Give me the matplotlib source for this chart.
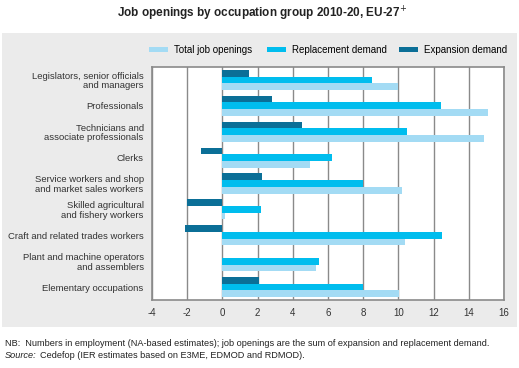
import matplotlib
matplotlib.use('Agg')
import matplotlib.pyplot as plt
from matplotlib.patches import Rectangle
from matplotlib import font_manager
import numpy as np

# data (millions of job openings)
occupations = [
    "Legislators, senior officials\nand managers",
    "Professionals",
    "Technicians and\nassociate professionals",
    "Clerks",
    "Service workers and shop\nand market sales workers",
    "Skilled agricultural\nand fishery workers",
    "Craft and related trades workers",
    "Plant and machine operators\nand assemblers",
    "Elementary occupations",
]
expansion = [1.5, 2.8, 4.5, -1.2, 2.25, -2.0, -2.1, -0.05, 2.1]
replacement = [8.5, 12.4, 10.5, 6.2, 8.0, 2.2, 12.45, 5.5, 8.0]
total = [10.0, 15.1, 14.85, 5.0, 10.2, 0.15, 10.35, 5.3, 10.05]
xticks = [-4, -2, 0, 2, 4, 6, 8, 10, 12, 14, 16]

c_total = "#a3dbf4"
c_repl = "#00bdee"
c_exp = "#0b6f97"
c_grid = "#8a8a8a"

names = {f.name for f in font_manager.fontManager.ttflist}
narrow = "Liberation Sans Narrow" if "Liberation Sans Narrow" in names else "Liberation Sans"
plt.rcParams['font.family'] = [narrow, "DejaVu Sans"]

fig = plt.figure(figsize=(5.19, 3.68), dpi=100)
W, H = 519.0, 368.0

# grey panel behind the chart
fig.patches.append(Rectangle((2 / W, 1 - 327 / H), 515 / W, 294 / H,
                             transform=fig.transFigure, facecolor="#ebebeb",
                             edgecolor="none", zorder=-10))

ax = fig.add_axes([152 / W, 1 - 300 / H, 352 / W, 233 / H])
ax.set_facecolor("white")

y = np.arange(len(occupations))
h = 0.26
ax.barh(y - h, expansion, height=h, color=c_exp, label="Expansion demand", zorder=3)
ax.barh(y, replacement, height=h, color=c_repl, label="Replacement demand", zorder=3)
ax.barh(y + h, total, height=h, color=c_total, label="Total job openings", zorder=3)

ax.set_xlim(-4, 16)
ax.set_ylim(len(occupations) - 0.5, -0.5)
ax.set_xticks(xticks)
ax.set_xticklabels([str(t) for t in xticks], fontsize=7, color="#333333")
ax.set_yticks(y)
ax.set_yticklabels(occupations, fontsize=6.8, color="#333333", linespacing=1.05)
ax.tick_params(length=0, pad=6)
ax.xaxis.grid(True, color=c_grid, linewidth=1.0, zorder=1)
for s in ax.spines.values():
    s.set_color(c_grid)
    s.set_linewidth(1.2)

# one legend entry each so they sit where the reference has them
handles, labels = ax.get_legend_handles_labels()
for i, xpos in [(2, 149), (1, 267), (0, 399)]:
    fig.legend([handles[i]], [labels[i]], loc="center left",
               bbox_to_anchor=(xpos / W, 1 - 50 / H), frameon=False, fontsize=7,
               handlelength=2.0, handleheight=0.45, handletextpad=0.6,
               borderaxespad=0, borderpad=0)

fig.text(262 / W, 1 - 14 / H, r"Job openings by occupation group 2010-20, EU-27$^{+}$",
         ha="center", va="center", fontsize=8.5, fontweight="bold",
         family=["Liberation Sans", "DejaVu Sans"], color="#222222")

fig.text(5 / W, 1 - 343 / H,
         "NB:  Numbers in employment (NA-based estimates); job openings are the sum of expansion and replacement demand.",
         ha="left", va="center", fontsize=6.6, color="#222222")
src = fig.text(5 / W, 1 - 356 / H, "Source:", ha="left", va="center", fontsize=6.6,
               style="italic", color="#222222")
fig.canvas.draw()
bb = src.get_window_extent(fig.canvas.get_renderer())
fig.text((bb.x1 + 3) / W, 1 - 356 / H, "Cedefop (IER estimates based on E3ME, EDMOD and RDMOD).",
         ha="left", va="center", fontsize=6.6, color="#222222")

fig.savefig("out.png", dpi=100, facecolor="white")
